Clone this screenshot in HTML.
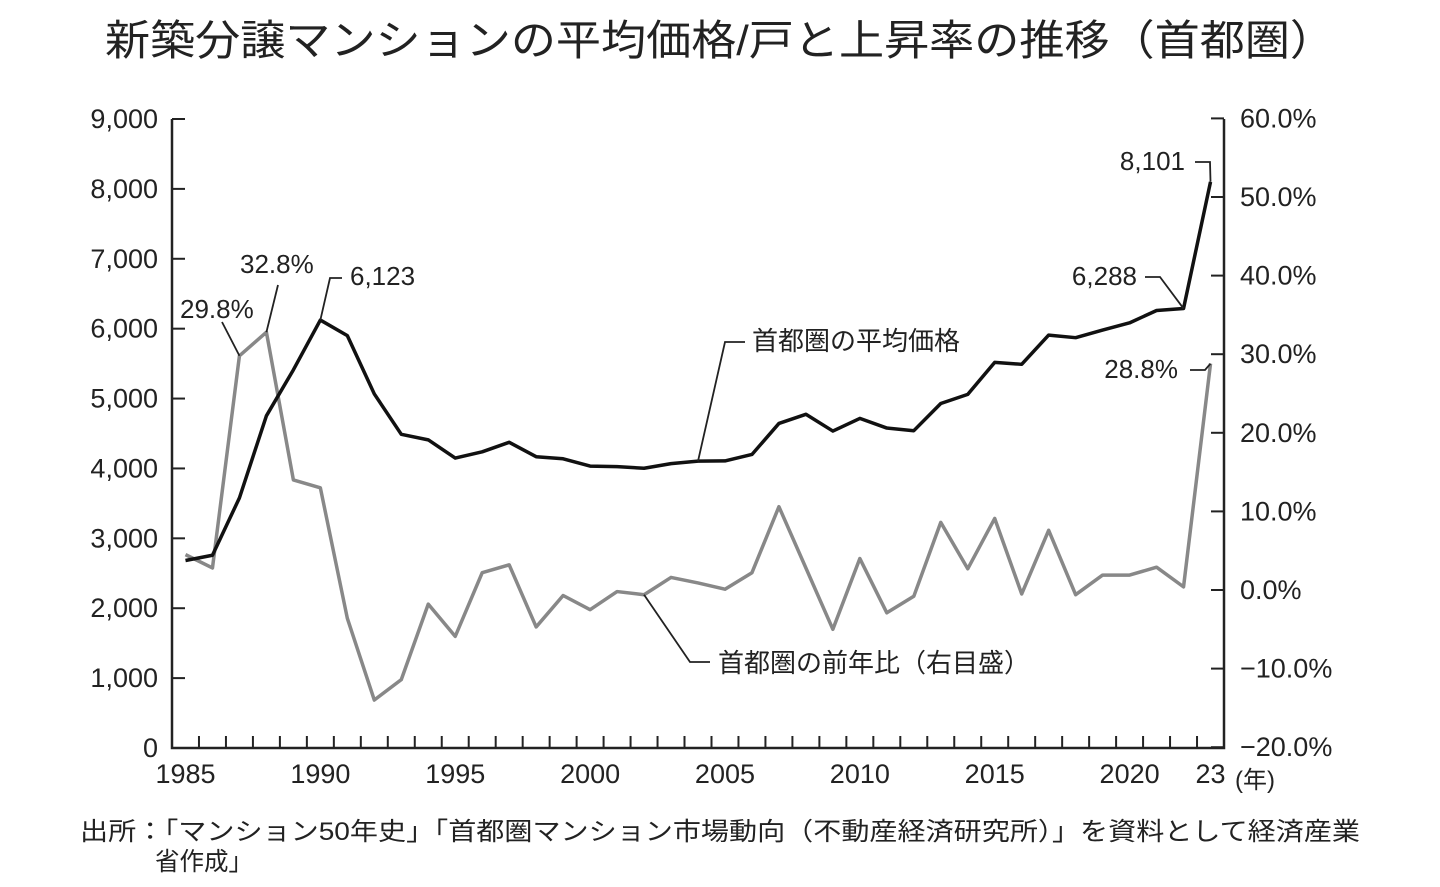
<!DOCTYPE html><html><head><meta charset="utf-8"><style>body{margin:0;background:#fff}svg{display:block}text{font-family:"Liberation Sans","Noto Sans CJK JP",sans-serif;fill:#222}</style></head><body>
<svg id="s" width="1440" height="887" xmlns="http://www.w3.org/2000/svg">
<text x="105" y="55" font-size="42" textLength="1230" lengthAdjust="spacingAndGlyphs">新築分譲マンションの平均価格/戸と上昇率の推移（首都圏）</text>
<g id="ax" stroke="#222" stroke-width="2.5" fill="none"><path d="M172,119V748H1224V119"/></g>
<g id="g"></g>
<text x="80" y="840" font-size="25" textLength="1280" lengthAdjust="spacingAndGlyphs">出所：「マンション50年史」「首都圏マンション市場動向（不動産経済研究所）」を資料として経済産業</text>
<text x="155" y="870" font-size="25" textLength="98" lengthAdjust="spacingAndGlyphs">省作成」</text>
<text x="1235" y="788" font-size="24">(年)</text>
</svg>
<script>
const P=[2683,2758,3579,4753,5411,6123,5900,5066,4488,4409,4148,4238,4374,4168,4138,4034,4026,4003,4069,4104,4108,4200,4644,4775,4535,4716,4578,4540,4929,5060,5518,5490,5908,5871,5980,6083,6260,6288,8101];
const R=[4.5,2.8,29.8,32.8,14,13,-3.6,-14,-11.4,-1.8,-5.9,2.2,3.2,-4.7,-0.7,-2.5,-0.2,-0.6,1.6,0.9,0.1,2.2,10.6,2.8,-5,4,-2.9,-0.8,8.6,2.7,9.1,-0.5,7.6,-0.6,1.9,1.9,2.9,0.4,28.8];
const W=(1224-172)/39,X=i=>172+(i+0.5)*W,YP=v=>748-v*629/9000,YR=v=>590-v*7.86;
let h='';
for(let k=1;k<39;k++)h+=`<line x1="${172+k*W}" y1="748" x2="${172+k*W}" y2="736" stroke="#222" stroke-width="2"/>`;
for(let k=0;k<=9;k++){let y=748-k*629/9;h+=`<line x1="172" x2="185" y1="${y}" y2="${y}" stroke="#222" stroke-width="2"/><text x="158" y="${y+9}" font-size="27" text-anchor="end">${k?k+',000':'0'}</text>`;}
for(let k=0;k<=8;k++){let v=-20+k*10,y=590-v*7.86;h+=`<line x1="1211" x2="1224" y1="${y}" y2="${y}" stroke="#222" stroke-width="2"/><text x="1240" y="${y+9}" font-size="27">${v<0?'−'+(-v):v}.0%</text>`;}
[1985,1990,1995,2000,2005,2010,2015,2020].forEach(y=>h+=`<text x="${X(y-1985)}" y="783" font-size="27" text-anchor="middle">${y}</text>`);
h+=`<text x="${X(38)}" y="783" font-size="27" text-anchor="middle">23</text>`;
h+=`<polyline fill="none" stroke="#888" stroke-width="3.5" stroke-linejoin="round" points="${R.map((v,i)=>X(i)+','+YR(v)).join(' ')}"/>`;
h+=`<polyline fill="none" stroke="#111" stroke-width="3.5" stroke-linejoin="round" points="${P.map((v,i)=>X(i)+','+YP(v)).join(' ')}"/>`;
const L=(pts)=>h+=`<polyline fill="none" stroke="#222" stroke-width="1.8" points="${pts}"/>`;
L(`${X(2)},${YR(29.8)} 222,322`);L(`${X(3)},${YR(32.8)} 278,285`);L(`${X(5)},${YP(6123)} 330,278 342,278`);
L(`${X(19)},${YP(4104)} 725,342 745,342`);L(`${X(17)},${YR(-0.6)} 690,662 710,662`);
L(`${X(38)},${YP(8101)} 1210,162 1195,162`);L(`${X(37)},${YP(6288)} 1160,277 1145,277`);L(`${X(38)},${YR(28.8)} 1205,370 1190,370`);
const T=(x,y,s,a)=>h+=`<text x="${x}" y="${y}" font-size="26" text-anchor="${a||'start'}">${s}</text>`;
T(180,318,'29.8%');T(240,273,'32.8%');T(350,285,'6,123');T(752,350,'首都圏の平均価格');T(718,672,'首都圏の前年比（右目盛）');
T(1185,170,'8,101','end');T(1137,285,'6,288','end');T(1178,378,'28.8%','end');
document.getElementById('g').innerHTML=h;
</script></body></html>
